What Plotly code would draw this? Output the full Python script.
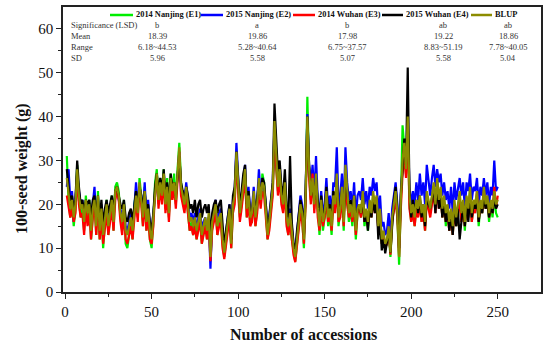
import plotly.graph_objects as go

accessions = list(range(1, 251))

e1_2014_nanjing = [
    31, 21, 17, 20, 15, 19, 29, 21, 17, 19,
    14, 22, 17, 21, 12, 18, 22, 13, 23, 12,
    18, 10, 16, 21, 13, 17, 22, 14, 24, 25,
    23, 17, 14, 21, 11, 10, 13, 16, 12, 20,
    23, 17, 26, 22, 15, 24, 14, 18, 12, 10,
    16, 25, 28, 20, 26, 21, 28, 19, 26, 17,
    27, 22, 27, 20, 28, 34, 25, 21, 19, 23,
    18, 14, 16, 13, 16, 12, 15, 17, 11, 14,
    16, 12, 17, 7, 15, 17, 19, 13, 16, 17,
    11, 8, 12, 15, 18, 10, 19, 21, 31, 24,
    17, 20, 23, 27, 17, 21, 16, 16, 22, 15,
    19, 25, 20, 27, 25, 18, 12, 15, 19, 23,
    37, 28, 23, 27, 21, 19, 24, 16, 13, 17,
    12, 9, 7, 11, 15, 19, 17, 10, 21, 44.5,
    27, 21, 25, 19, 26, 18, 13, 20, 14, 17,
    22, 15, 18, 13, 21, 19, 25, 15, 18, 22,
    14, 27, 21, 16, 19, 15, 21, 12, 18, 19,
    17, 22, 15, 18, 14, 20, 17, 22, 19, 21,
    14, 18, 11, 13, 10, 11, 14, 8, 16, 19,
    22, 17, 6.2, 20, 38, 33, 27, 38, 20, 16,
    19, 15, 20, 18, 21, 16, 19, 14, 22, 20,
    18, 21, 24, 19, 25, 20, 23, 17, 21, 15,
    19, 14, 18, 13, 20, 15, 19, 22, 16, 20,
    14, 21, 18, 23, 16, 20, 19, 22, 15, 20,
    18, 23, 19, 21, 16, 20, 17, 22, 18, 17,
]

e2_2015_nanjing = [
    24, 28, 21, 23, 16, 21, 27, 23, 20, 21,
    17, 20, 19, 19, 15, 20, 24, 16, 21, 15,
    20, 14, 18, 19, 16, 19, 20, 17, 22, 23,
    21, 19, 17, 19, 15, 14, 16, 18, 15, 19,
    25, 20, 24, 22, 18, 25, 17, 21, 15, 13,
    18, 23, 26, 22, 24, 23, 26, 21, 23, 19,
    25, 24, 24, 22, 26, 32, 23, 23, 21, 25,
    21, 17, 18, 16, 18, 14, 17, 19, 14, 16,
    17, 13, 17, 5.3, 16, 19, 21, 16, 18, 19,
    13, 10, 14, 17, 20, 12, 21, 23, 34, 27,
    19, 22, 25, 29, 20, 24, 18, 19, 24, 18,
    21, 28, 22, 26, 24, 20, 14, 17, 21, 25,
    38, 31, 25, 29, 23, 21, 26, 18, 16, 19,
    15, 11, 9, 14, 17, 22, 20, 13, 23, 40.6,
    29, 24, 29, 22, 31, 21, 17, 23, 18, 20,
    26, 19, 22, 17, 25, 24, 33, 20, 22, 27,
    18, 33, 25, 21, 23, 19, 25, 17, 22, 23,
    21, 26, 20, 23, 19, 24, 22, 26, 23, 25,
    18, 22, 15, 16, 13, 14, 18, 12, 19, 22,
    25, 20, 10, 23, 29, 33, 28, 38, 24, 20,
    23, 20, 25, 21, 27, 22, 25, 20, 29, 26,
    22, 26, 29, 24, 28, 25, 27, 22, 25, 21,
    23, 19, 24, 18, 25, 21, 24, 26, 22, 25,
    19, 25, 23, 27, 21, 24, 23, 26, 20, 24,
    22, 26, 22, 25, 20, 24, 22, 30, 23, 24,
]

e3_2014_wuhan = [
    22, 19, 17, 19, 16, 18, 27, 20, 17, 18,
    13, 19, 15, 18, 12, 17, 20, 13, 20, 12,
    17, 11, 15, 18, 13, 16, 19, 14, 21, 23,
    21, 16, 13, 18, 12, 11, 13, 15, 12, 17,
    21, 16, 24, 20, 15, 21, 14, 17, 12, 11,
    15, 23, 26, 19, 24, 20, 26, 18, 22, 16,
    24, 21, 24, 19, 25, 32, 22, 20, 18, 22,
    18, 14, 15, 13, 15, 12, 14, 16, 11, 13,
    15, 12, 16, 7, 14, 16, 18, 13, 15, 16,
    10, 7.5, 11, 14, 17, 10, 18, 20, 30, 23,
    16, 19, 22, 26, 17, 20, 15, 16, 21, 15,
    18, 24, 19, 23, 22, 17, 12, 14, 18, 22,
    36, 28, 22, 26, 20, 18, 23, 15, 13, 16,
    12, 8.5, 6.8, 11, 14, 18, 16, 11, 20, 37.6,
    26, 20, 27, 18, 25, 17, 14, 19, 15, 17,
    21, 16, 18, 14, 20, 18, 24, 16, 17, 22,
    15, 26, 20, 17, 19, 16, 20, 13, 18, 19,
    17, 21, 16, 18, 15, 20, 17, 21, 18, 20,
    14, 18, 11, 13, 10, 11, 14, 8.5, 16, 19,
    21, 17, 8, 19, 27, 31, 26, 37, 19, 16,
    18, 15, 19, 17, 20, 16, 18, 14, 21, 19,
    17, 20, 23, 18, 24, 19, 22, 17, 20, 16,
    18, 14, 17, 13, 19, 15, 18, 21, 16, 19,
    15, 20, 17, 22, 16, 19, 18, 23, 16, 20,
    18, 23, 19, 21, 17, 20, 18, 24, 19, 22,
]

e4_2015_wuhan = [
    28, 23, 20, 22, 19, 21, 30, 24, 20, 21,
    18, 21, 20, 21, 17, 21, 22, 17, 22, 16,
    21, 15, 19, 21, 18, 20, 22, 18, 23, 24,
    22, 20, 19, 21, 17, 16, 18, 19, 16, 20,
    23, 20, 24, 22, 19, 23, 18, 20, 16, 14,
    18, 24, 27, 23, 26, 23, 28, 22, 25, 20,
    27, 24, 25, 22, 26, 31, 25, 23, 21, 24,
    22, 19, 20, 18, 21, 17, 20, 21, 17, 19,
    20, 18, 20, 12, 18, 20, 21, 18, 20, 21,
    14, 10, 14, 17, 20, 12, 22, 24, 32, 26,
    19, 23, 27, 29, 20, 23, 18, 18, 22, 18,
    21, 25, 22, 26, 25, 20, 15, 17, 21, 25,
    43, 33, 27, 30, 24, 22, 28, 19, 17, 31,
    16, 11, 9, 14, 17, 21, 19, 13, 23, 40,
    29, 23, 24, 21, 26, 20, 16, 22, 17, 18,
    24, 18, 20, 16, 23, 21, 25, 18, 20, 23,
    17, 27, 22, 19, 21, 18, 22, 15, 19, 20,
    18, 22, 16, 18, 14, 20, 17, 21, 18, 21,
    12, 17, 9.5, 12, 8.8, 11, 14, 9, 15, 21,
    24, 19, 10, 22, 28, 35, 29, 51.2, 23, 17,
    21, 18, 21, 18, 22, 17, 20, 15, 22, 20,
    19, 22, 24, 18, 25, 19, 22, 17, 20, 16,
    19, 14, 18, 13, 20, 15, 19, 12, 17, 20,
    15, 21, 16, 22, 17, 20, 19, 21, 16, 20,
    18, 22, 19, 21, 17, 20, 18, 22, 19, 20,
]

blup = [
    26, 22, 19, 21, 17, 20, 28, 22, 19, 20,
    16, 21, 18, 20, 14, 19, 21, 15, 22, 14,
    19, 13, 17, 20, 15, 18, 21, 16, 23, 24,
    22, 18, 16, 20, 14, 13, 15, 17, 14, 19,
    22, 18, 25, 21, 17, 23, 16, 19, 14, 12,
    17, 24, 27, 21, 25, 22, 27, 20, 24, 18,
    26, 23, 25, 21, 27, 33, 24, 22, 20, 24,
    20, 16, 17, 15, 17, 14, 16, 18, 13, 15,
    17, 14, 18, 8, 16, 18, 20, 15, 17, 18,
    12, 9, 13, 16, 19, 11, 20, 22, 32, 25,
    18, 21, 24, 28, 19, 22, 17, 18, 23, 17,
    20, 26, 21, 25, 24, 19, 13, 16, 20, 24,
    39, 30, 24, 28, 22, 20, 25, 17, 15, 18,
    14, 10, 8, 13, 16, 20, 18, 12, 22, 40,
    28, 22, 26, 20, 27, 19, 15, 21, 16, 18,
    23, 17, 19, 15, 22, 20, 27, 17, 19, 24,
    16, 29, 22, 18, 20, 17, 22, 14, 19, 20,
    18, 23, 17, 19, 16, 21, 18, 23, 20, 22,
    15, 19, 12, 14, 11, 12, 15, 9, 17, 20,
    23, 18, 8, 21, 30, 34, 28, 40, 22, 18,
    20, 17, 21, 19, 22, 18, 20, 16, 23, 21,
    19, 22, 25, 20, 26, 21, 24, 19, 22, 18,
    20, 16, 19, 15, 21, 17, 20, 23, 18, 21,
    16, 22, 19, 24, 18, 21, 20, 23, 17, 21,
    19, 24, 20, 22, 18, 21, 19, 23, 20, 21,
]

series_names = ["2014 Nanjing (E1)", "2015 Nanjing (E2)", "2014 Wuhan (E3)", "2015 Wuhan (E4)", "BLUP"]
series_values = [e1_2014_nanjing, e2_2015_nanjing, e3_2014_wuhan, e4_2015_wuhan, blup]
series_colors = ["#00ee00", "#0000ff", "#ff0000", "#000000", "#8c8c00"]

row_labels = ["Significance (LSD)", "Mean", "Range", "SD"]
significance = ["b", "a", "b", "ab", "ab"]
means = ["18.39", "19.86", "17.98", "19.22", "18.86"]
ranges = ["6.18~44.53", "5.28~40.64", "6.75~37.57", "8.83~51.19", "7.78~40.05"]
sds = ["5.96", "5.58", "5.07", "5.58", "5.04"]
table_rows = [significance, means, ranges, sds]

FONT = "Liberation Serif"
W, H = 550, 350
L, R, T, B = 63, 9, 7, 58
PW, PH = W - L - R, H - T - B


def px(x):
    return (x - L) / PW


def py(y):
    return (H - B - y) / PH


fig = go.Figure()
for name, vals, col in zip(series_names, series_values, series_colors):
    fig.add_trace(go.Scatter(x=accessions, y=vals, mode="lines", name=name,
                             line=dict(color=col, width=2.2), showlegend=False))

shapes = []
annotations = []

# legend (manual)
leg_y = 15
leg_items = [(110, 134), (201, 224), (293, 316), (382, 404), (471, 493)]
for (x0, tx), name, col in zip(leg_items, series_names, series_colors):
    shapes.append(dict(type="line", xref="paper", yref="paper",
                       x0=px(x0), x1=px(tx - 1), y0=py(leg_y), y1=py(leg_y),
                       line=dict(color=col, width=2.5)))
    annotations.append(dict(xref="paper", yref="paper", x=px(tx), y=py(leg_y),
                            text="<b>" + name + "</b>", showarrow=False,
                            xanchor="left", yanchor="middle",
                            font=dict(family=FONT, size=8.4, color="#111")))

# statistics table
row_y = [25, 36, 47, 58]
col_x = [157, 257, 347, 443, 508]
for ry, lab, vals in zip(row_y, row_labels, table_rows):
    annotations.append(dict(xref="paper", yref="paper", x=px(69), y=py(ry),
                            text=lab, showarrow=False, xanchor="left", yanchor="middle",
                            font=dict(family=FONT, size=8.5, color="#333")))
    for cx, v in zip(col_x, vals):
        annotations.append(dict(xref="paper", yref="paper", x=px(cx), y=py(ry),
                                text=v, showarrow=False, xanchor="center", yanchor="middle",
                                font=dict(family=FONT, size=8.5, color="#333")))

# axis titles
annotations.append(dict(xref="paper", yref="paper", x=px(303), y=py(334),
                        text="<b>Number of accessions</b>", showarrow=False,
                        xanchor="center", yanchor="middle",
                        font=dict(family=FONT, size=16, color="#111")))
annotations.append(dict(xref="paper", yref="paper", x=px(22), y=py(169),
                        text="<b>100-seed weight (g)</b>", showarrow=False, textangle=-90,
                        xanchor="center", yanchor="middle",
                        font=dict(family=FONT, size=16, color="#111")))

axis_common = dict(showline=True, linecolor="#222", linewidth=1.6, mirror=True,
                   ticks="outside", ticklen=5, tickwidth=1.4, tickcolor="#222",
                   showgrid=False, zeroline=False, automargin=False,
                   tickfont=dict(family=FONT, size=15, color="#111"))

fig.update_layout(
    width=W, height=H,
    margin=dict(l=L, r=R, t=T, b=B, autoexpand=False),
    paper_bgcolor="white", plot_bgcolor="white",
    shapes=shapes, annotations=annotations,
    showlegend=False,
    xaxis=dict(range=[-1.2, 275], tickvals=[0, 50, 100, 150, 200, 250],
               minor=dict(tickvals=[25, 75, 125, 175, 225], ticklen=3, tickwidth=1.2,
                          tickcolor="#222", ticks="outside"),
               **axis_common),
    yaxis=dict(range=[0, 65], tickvals=[0, 10, 20, 30, 40, 50, 60],
               minor=dict(tickvals=[5, 15, 25, 35, 45, 55], ticklen=3, tickwidth=1.2,
                          tickcolor="#222", ticks="outside"),
               **axis_common),
)

fig.write_html("out.html", config={"displayModeBar": False},
               post_script="document.body.style.margin='0px';")
